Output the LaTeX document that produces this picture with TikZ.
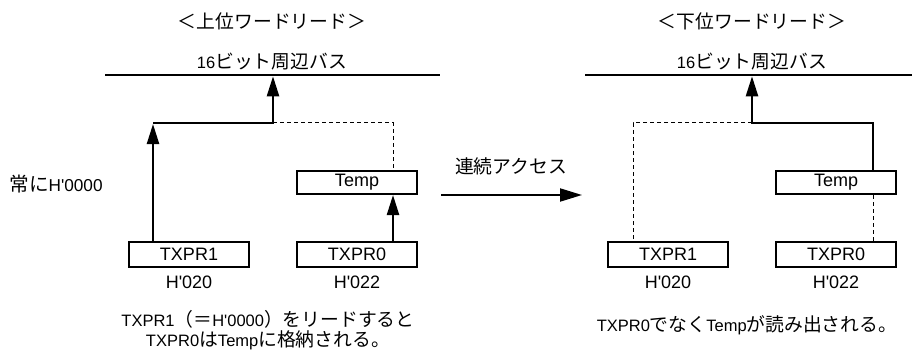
\documentclass[tikz,border=0pt]{standalone}
\usepackage{fontspec}
\setmainfont{Liberation Sans}[Ligatures=TeXOff]
\newfontfamily\jp{Noto Sans CJK JP}[Scale=1.14]
\usepackage{tikz}
\usetikzlibrary{
    arrows.meta,
    positioning
}
\tikzstyle{flecha} = [-{Triangle[length=20pt,width=12pt]}, line width=2.3pt]
\tikzstyle{grande} = [font=\fontsize{18}{21}\selectfont]
\tikzstyle{reg} = [grande, draw, line width=1.1pt, minimum width=120pt, minimum height=25pt, inner sep=0pt]
\tikzstyle{temp} = [grande, draw, line width=2pt, minimum width=120pt, minimum height=23pt, inner sep=0pt]
\tikzstyle{bus} = [line width=2.7pt]
\tikzstyle{punteada} = [dashed, dash pattern=on 4pt off 3pt, line width=1pt]

\begin{document}
\begin{tikzpicture}[x=1pt,y=-1pt,font=\fontsize{16.5}{20}\selectfont]
\useasboundingbox (0,0) rectangle (912,350);

% Titulos
\node (tituloL) at (272,21) {\jp ＜上位ワードリード＞};
\node (tituloR) at (752,21) {\jp ＜下位ワードリード＞};

% Buses
\coordinate (busLa) at (105,75);
\coordinate (busLb) at (440,75);
\coordinate (busRa) at (585,75);
\coordinate (busRb) at (912,75);
\draw[bus] (busLa) -- (busLb);
\draw[bus] (busRa) -- (busRb);
\node (nomL) at (272,62) {16{\jp ビット周辺バス}};
\node (nomR) at (752,62) {16{\jp ビット周辺バス}};

% Registros
\node[reg] (txpr1L) at (189,254.5) {TXPR1};
\node[reg] (txpr0L) at (357,254.5) {TXPR0};
\node[temp] (tempL) at (357,182.5) {Temp};
\node[reg] (txpr1R) at (668,254.5) {TXPR1};
\node[reg] (txpr0R) at (836,254.5) {TXPR0};
\node[temp] (tempR) at (836,182.5) {Temp};

% Direcciones
\node[grande] (dirL1) at (189,282) {H'020};
\node[grande] (dirL0) at (357,282) {H'022};
\node[grande] (dirR1) at (668,282) {H'020};
\node[grande] (dirR0) at (836,282) {H'022};

% Lectura superior
\coordinate (esqL) at (153,123);
\coordinate (uniL) at (273,123);
\coordinate (puntL) at (393,123);
\draw[flecha, shorten >=1pt] (txpr1L.north -| esqL) -- (esqL);
\draw[flecha, shorten >=1.3pt] (esqL) -- (uniL) -- (uniL |- busLa);
\draw[punteada] (uniL) -- (puntL) -- (tempL.north -| puntL);
\draw[flecha] (txpr0L.north -| puntL) -- (tempL.south -| puntL);
\node[font=\fontsize{17.2}{20}\selectfont] (constL) at (56,184) {{\jp 常に}H'0000};

% Acceso continuo
\coordinate (accIni) at (441,195);
\coordinate (accFin) at (582,195);
\draw[-{Triangle[length=22pt,width=13pt]}, line width=2pt] (accIni) -- (accFin);
\node (acceso) at (511,166) {\jp 連続アクセス};

% Lectura inferior
\coordinate (uniR) at (752,123);
\coordinate (esqR) at (873,123);
\coordinate (puntR) at (633,123);
\draw[flecha, shorten >=1.3pt] (tempR.north -| esqR) -- (esqR) -- (uniR) -- (uniR |- busRa);
\draw[punteada] (uniR) -- (puntR) -- (txpr1R.north -| puntR);
\draw[punteada] (tempR.south -| esqR) -- (txpr0R.north -| esqR);

% Notas
\node[align=center] (notaL) at (268,330) {TXPR1{\jp （＝}H'0000{\jp ）をリードすると}\\TXPR0{\jp は}Temp{\jp に格納される。}};
\node (notaR) at (747,325) {TXPR0{\jp でなく}Temp{\jp が読み出される。}};

\end{tikzpicture}
\end{document}
